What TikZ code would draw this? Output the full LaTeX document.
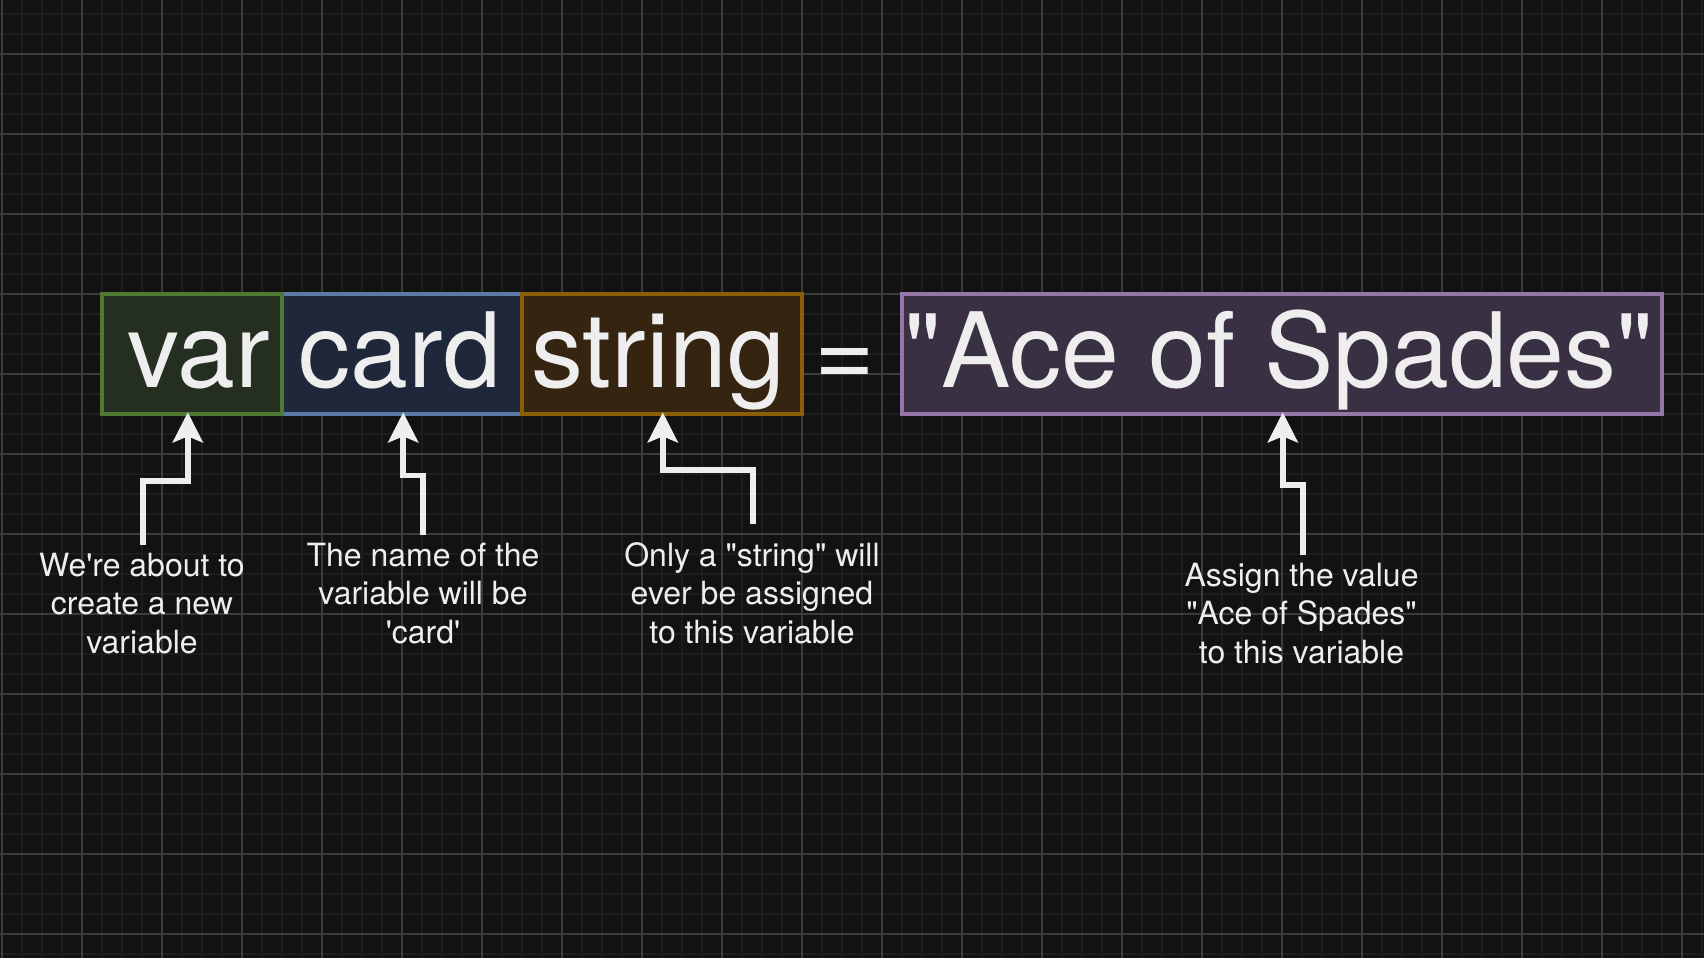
\documentclass[tikz,border=0pt]{standalone}
\usepackage{fontspec}
\setmainfont{TeX Gyre Heros}[Ligatures=TeXOff]
\usetikzlibrary{arrows.meta}

% straight quote marks
\newcommand{\qdbl}{\symbol{34}}
\newcommand{\qsgl}{\symbol{39}}

\definecolor{canvas}{RGB}{18,18,18}
\definecolor{gridminor}{RGB}{29,29,29}
\definecolor{gridmajor}{RGB}{60,60,60}
\definecolor{ink}{RGB}{238,238,238}
\definecolor{varfill}{RGB}{37,47,33}
\definecolor{vardraw}{RGB}{80,121,52}
\definecolor{cardfill}{RGB}{31,39,58}
\definecolor{carddraw}{RGB}{92,122,166}
\definecolor{strfill}{RGB}{53,36,16}
\definecolor{strdraw}{RGB}{139,94,8}
\definecolor{acefill}{RGB}{57,49,67}
\definecolor{acedraw}{RGB}{148,118,168}

\begin{document}
\begin{tikzpicture}[x=1pt,y=-1pt,
  minorgrid/.style={draw=gridminor,line width=2pt},
  majorgrid/.style={draw=gridmajor,line width=1.1pt},
  tokenbox/.style={rectangle,line width=3.3pt,minimum height=120pt,inner sep=0pt,outer sep=0pt},
  tokentext/.style={anchor=base,inner sep=0pt,text=ink,font=\fontsize{104}{120}\selectfont},
  note/.style={anchor=base,inner sep=0pt,text=ink,align=center,font=\fontsize{32}{38.4}\selectfont},
  arr/.style={draw=ink,line width=5.6pt,line join=miter,shorten >=-1.65pt,
    -{Stealth[length=30pt,width=30pt,inset=6pt]}}
]
% canvas and grid
\useasboundingbox (0,0) rectangle (1704,958);
\fill[canvas] (0,0) rectangle (1704,958);
\foreach \x in {2,22,...,1702} \draw[minorgrid] (\x,0) -- (\x,958);
\foreach \y in {14,34,...,954} \draw[minorgrid] (0,\y) -- (1704,\y);
\foreach \x in {2,82,...,1682} \draw[majorgrid] (\x,0) -- (\x,958);
\foreach \y in {54,134,...,934} \draw[majorgrid] (0,\y) -- (1704,\y);

% the four tokens of the declaration
\node[tokenbox,fill=varfill,draw=vardraw,minimum width=180pt] (varbox) at (192,354) {};
\node[tokenbox,fill=cardfill,draw=carddraw,minimum width=240pt] (cardbox) at (402,354) {};
\node[tokenbox,fill=strfill,draw=strdraw,minimum width=280pt] (strbox) at (662,354) {};
\node[tokenbox,fill=acefill,draw=acedraw,minimum width=760pt] (acebox) at (1282,354) {};
\draw[vardraw,line width=3.3pt,line cap=rect] (varbox.north east) -- (varbox.south east);

\node[tokentext] (vartxt) at (199,387) {var};
\node[tokentext] (cardtxt) at (400,387) {card};
\node[tokentext] (strtxt) at (658,387) {string};
\node[tokentext] (eqtxt) at (845,387) {=};
\node[tokentext] (acetxt) at (1279,387) {\qdbl Ace of Spades\qdbl};

% explanations (anchored on the baseline of their last line)
\node[note] (note1) at (142,653.3) {We\qsgl re about to\\create a new\\variable};
\node[note] (note2) at (423,643.3) {The name of the\\variable will be\\\qsgl card\qsgl};
\node[note] (note3) at (752,643.3) {Only a \qdbl string\qdbl{} will\\ever be assigned\\to this variable};
\node[note] (note4) at (1301.5,663.3) {Assign the value\\\qdbl Ace of Spades\qdbl\\to this variable};

% arrows from each explanation up to its token
\coordinate (s1) at (142.8,545);   \coordinate (b1) at (187.8,480.7);
\coordinate (s2) at (422.8,535);   \coordinate (b2) at (403.2,475.5);
\coordinate (s3) at (752.8,524.3); \coordinate (b3) at (662.8,469.7);
\coordinate (s4) at (1302.8,555);  \coordinate (b4) at (1282.8,485.2);
\draw[arr] (s1) |- (b1) -- (varbox.south -| b1);
\draw[arr] (s2) |- (b2) -- (cardbox.south -| b2);
\draw[arr] (s3) |- (b3) -- (strbox.south -| b3);
\draw[arr] (s4) |- (b4) -- (acebox.south -| b4);
\end{tikzpicture}
\end{document}
